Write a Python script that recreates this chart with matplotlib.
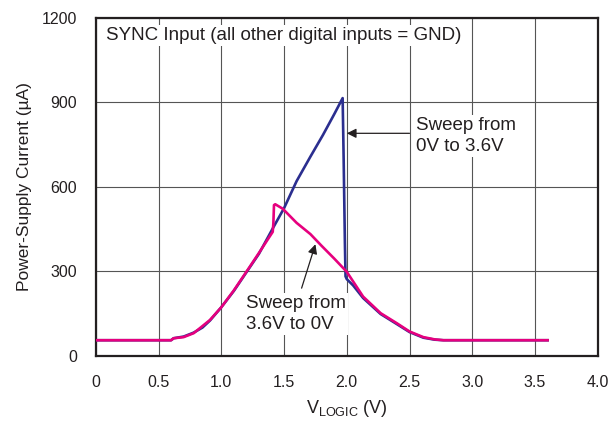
import matplotlib.pyplot as plt
import numpy as np

plt.rcParams['font.family'] = ['Liberation Sans', 'DejaVu Sans']
plt.rcParams['mathtext.fontset'] = 'custom'
plt.rcParams['mathtext.rm'] = 'Liberation Sans'

# sweep 0V -> 3.6V (blue)
up_v = [0, 0.60, 0.62, 0.70, 0.78, 0.85, 0.91, 1.00, 1.10, 1.23, 1.30, 1.41, 1.50,
        1.60, 1.71, 1.81, 1.90, 1.967, 1.975, 1.985, 1.99, 2.00, 2.05, 2.13, 2.27,
        2.40, 2.50, 2.61, 2.70, 2.77, 3.60]
up_i = [55, 55, 62, 68, 82, 100, 125, 172, 230, 316, 362, 452, 524,
        620, 707, 784, 858, 915, 700, 400, 282, 272, 250, 205, 148,
        112, 84, 64, 57, 55, 55]

# sweep 3.6V -> 0V (pink)
down_v = [0, 0.60, 0.62, 0.70, 0.78, 0.91, 1.00, 1.10, 1.23, 1.30, 1.41, 1.415,
          1.42, 1.43, 1.49, 1.60, 1.71, 1.80, 1.90, 2.00, 2.13, 2.27, 2.40, 2.50,
          2.61, 2.70, 2.77, 3.60]
down_i = [55, 55, 62, 66, 80, 127, 172, 232, 318, 365, 440, 470,
          535, 538, 522, 472, 432, 390, 345, 298, 210, 151, 115, 86,
          66, 58, 55, 55]

x_ticks = [0, 0.5, 1.0, 1.5, 2.0, 2.5, 3.0, 3.5, 4.0]
x_labels = ['0', '0.5', '1.0', '1.5', '2.0', '2.5', '3.0', '3.5', '4.0']
y_ticks = [0, 300, 600, 900, 1200]

fig = plt.figure(figsize=(6.1, 4.26), dpi=100)
ax = fig.add_axes([0.157, 0.165, 0.823, 0.793])

ax.plot(up_v, up_i, color='#2B2E8F', lw=1.9, zorder=3)
ax.plot(down_v, down_i, color='#E6007E', lw=1.9, zorder=4)

ax.set_xlim(0, 4.0)
ax.set_ylim(0, 1200)
ax.set_xticks(x_ticks)
ax.set_xticklabels(x_labels)
ax.set_yticks(y_ticks)
ax.tick_params(length=0, labelsize=11.5, colors='#231F20')
ax.tick_params(axis='x', pad=14)
ax.tick_params(axis='y', pad=13.5)
ax.grid(True, color='#555555', lw=0.8)
ax.set_axisbelow(True)
for s in ax.spines.values():
    s.set_linewidth(1.6)
    s.set_color('#231F20')

ax.set_xlabel(r'V$_{\mathrm{LOGIC}}$ (V)', fontsize=13, color='#231F20', labelpad=6)
ax.set_ylabel('Power-Supply Current (\u00b5A)', fontsize=12.5, color='#231F20', labelpad=7)

bb = dict(facecolor='white', edgecolor='none', pad=1.5)
ax.text(0.085, 1139, 'SYNC Input (all other digital inputs = GND)', fontsize=13.5,
        va='center', ha='left', color='#231F20', bbox=bb, zorder=5)

ax.annotate('', xy=(2.0, 790), xytext=(2.5, 790),
            arrowprops=dict(arrowstyle='-|>', color='#231F20', lw=0.9,
                            mutation_scale=14, shrinkA=0, shrinkB=0), zorder=6)
ax.text(2.55, 782, 'Sweep from\n0V to 3.6V', fontsize=13.5, va='center', ha='left',
        color='#231F20', linespacing=1.3, bbox=bb, zorder=5)

ax.annotate('', xy=(1.75, 396), xytext=(1.64, 240),
            arrowprops=dict(arrowstyle='-|>', color='#231F20', lw=0.9,
                            mutation_scale=14, shrinkA=0, shrinkB=0), zorder=6)
ax.text(1.20, 148, 'Sweep from\n3.6V to 0V', fontsize=13.5, va='center', ha='left',
        color='#231F20', linespacing=1.3, bbox=bb, zorder=5)

fig.savefig('out.png', dpi=100)
